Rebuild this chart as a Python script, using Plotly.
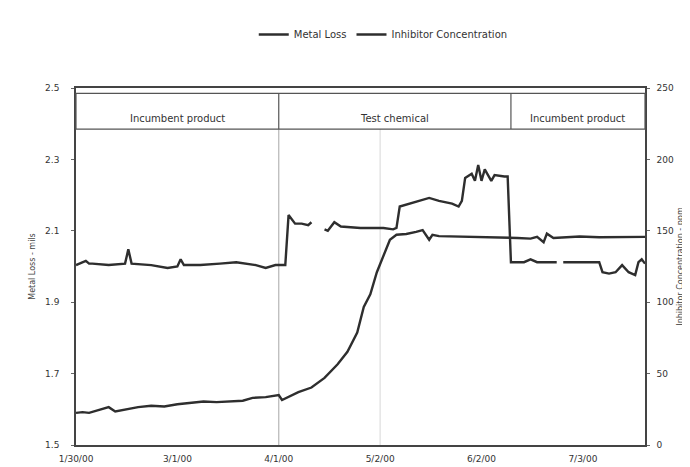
import plotly.graph_objects as go
import pandas as pd

# ---------------- data ----------------
metal_dates = ["2000-01-30","2000-02-01","2000-02-03","2000-02-06","2000-02-09","2000-02-11","2000-02-14",
               "2000-02-18","2000-02-22","2000-02-26","2000-03-01","2000-03-05","2000-03-09","2000-03-13",
               "2000-03-17","2000-03-21","2000-03-24","2000-03-28","2000-04-01","2000-04-02","2000-04-07",
               "2000-04-11","2000-04-15","2000-04-19","2000-04-22","2000-04-25","2000-04-27","2000-04-29",
               "2000-05-01","2000-05-03","2000-05-05","2000-05-07","2000-05-10","2000-05-13","2000-05-15",
               "2000-05-17","2000-05-18","2000-05-20","2000-05-25","2000-05-30","2000-06-04","2000-06-09",
               "2000-06-13","2000-06-17","2000-06-19","2000-06-21","2000-06-22","2000-06-24","2000-06-28",
               "2000-07-02","2000-07-08","2000-07-14","2000-07-18","2000-07-22"]
metal_loss = [1.590,1.592,1.590,1.598,1.606,1.594,1.600,
              1.606,1.610,1.608,1.614,1.618,1.622,1.620,
              1.622,1.624,1.632,1.634,1.640,1.626,1.648,
              1.661,1.688,1.726,1.761,1.815,1.887,1.922,
              1.984,2.030,2.075,2.089,2.091,2.097,2.102,
              2.075,2.089,2.085,2.084,2.082,2.083,2.082,
              2.080,2.078,2.083,2.068,2.092,2.080,2.082,
              2.084,2.082,2.082,2.083,2.083]

inh_dates = ["2000-01-30","2000-02-02","2000-02-03","2000-02-04","2000-02-09","2000-02-14","2000-02-15",
             "2000-02-16","2000-02-22","2000-02-27","2000-03-01","2000-03-02","2000-03-03","2000-03-08",
             "2000-03-14","2000-03-19","2000-03-25","2000-03-28","2000-03-31","2000-04-03","2000-04-04",
             "2000-04-06","2000-04-08","2000-04-10","2000-04-11","2000-04-13","2000-04-15","2000-04-16",
             "2000-04-18","2000-04-20","2000-04-26","2000-05-03","2000-05-06","2000-05-07","2000-05-08",
             "2000-05-11","2000-05-17","2000-05-20","2000-05-24","2000-05-26","2000-05-27","2000-05-28",
             "2000-05-30","2000-05-31","2000-06-01","2000-06-02","2000-06-03","2000-06-05","2000-06-06",
             "2000-06-09","2000-06-10","2000-06-11","2000-06-15","2000-06-17","2000-06-19","2000-06-24",
             "2000-06-25","2000-06-26","2000-06-27","2000-07-03","2000-07-08","2000-07-09","2000-07-11",
             "2000-07-13","2000-07-15","2000-07-17","2000-07-19","2000-07-20","2000-07-21","2000-07-22"]
inhibitor = [126,129,127,127,126,127,137,
             127,126,124,125,130,126,126,
             127,128,126,124,126,126,161,
             155,155,154,156,None,151,150,
             156,153,152,152,151,152,167,
             169,173,171,169,167,171,187,
             190,185,196,185,193,185,189,
             188,188,128,128,130,128,128,
             128,None,128,128,128,121,120,
             121,126,121,119,128,130,127]

phase_names = ["Incumbent product", "Test chemical", "Incumbent product"]
phase_bounds = ["2000-01-30", "2000-04-01", "2000-06-11", "2000-07-22"]
marker_dates = ["2000-04-01", "2000-05-02"]

tick_dates = ["2000-01-30", "2000-03-01", "2000-04-01", "2000-05-02", "2000-06-02", "2000-07-03"]
tick_text = ["1/30/00", "3/1/00", "4/1/00", "5/2/00", "6/2/00", "7/3/00"]
left_ticks = [1.5, 1.7, 1.9, 2.1, 2.3, 2.5]
right_ticks = [0, 50, 100, 150, 200, 250]

# ---------------- figure ----------------
LINE = "#2e2e2e"
FONT = "DejaVu Sans"

fig = go.Figure()
fig.add_trace(go.Scatter(x=metal_dates, y=metal_loss, name="Metal Loss", mode="lines",
                         line=dict(color=LINE, width=2.4), yaxis="y"))
fig.add_trace(go.Scatter(x=inh_dates, y=inhibitor, name="Inhibitor Concentration", mode="lines",
                         line=dict(color=LINE, width=2.4), yaxis="y2", connectgaps=False))

shapes = []
for i, d in enumerate(marker_dates):
    shapes.append(dict(type="line", xref="x", yref="paper", x0=d, x1=d, y0=0, y1=0.9,
                       line=dict(color="#b5b5b5" if i == 0 else "#dedede", width=1.2), layer="below"))
box_top, box_bot = 0.985, 0.885
shapes.append(dict(type="rect", xref="paper", yref="paper", x0=0, x1=1, y0=box_bot, y1=box_top,
                   line=dict(color="#555", width=1.2), fillcolor="white"))
for d in phase_bounds[1:-1]:
    shapes.append(dict(type="line", xref="x", yref="paper", x0=d, x1=d, y0=box_bot, y1=box_top,
                       line=dict(color="#555", width=1.2)))

annotations = []
for name, a, b in zip(phase_names, phase_bounds[:-1], phase_bounds[1:]):
    mid = pd.Timestamp(a) + (pd.Timestamp(b) - pd.Timestamp(a)) / 2
    annotations.append(dict(x=mid, y=(box_top + box_bot) / 2, xref="x", yref="paper", text=name,
                            showarrow=False, font=dict(family=FONT, size=10, color="#333")))

fig.update_layout(
    width=690, height=467,
    margin=dict(l=68, r=53, t=65, b=30),
    paper_bgcolor="white", plot_bgcolor="white",
    font=dict(family=FONT, size=9, color="#333"),
    showlegend=True,
    legend=dict(orientation="h", x=0.54, xanchor="center", y=1.15, yanchor="middle",
                font=dict(family=FONT, size=10, color="#333"), itemwidth=30,
                bgcolor="rgba(0,0,0,0)"),
    shapes=shapes, annotations=annotations,
    xaxis=dict(type="date", range=["2000-01-30", "2000-07-22"], tickvals=tick_dates, ticktext=tick_text,
               showgrid=False, showline=True, linecolor="#444", linewidth=1.5, mirror=True,
               ticks="", ticklabelstandoff=4, tickfont=dict(family=FONT, size=9, color="#333"),
               zeroline=False, automargin=False),
    yaxis=dict(range=[1.5, 2.5], tickvals=left_ticks, ticktext=["1.5", "1.7", "1.9", "2.1", "2.3", "2.5"],
               showgrid=False, showline=True, linecolor="#444", linewidth=1.5,
               ticks="outside", ticklen=3, tickcolor="#666", ticklabelstandoff=10,
               tickfont=dict(family=FONT, size=9, color="#333"),
               title=dict(text="Metal Loss - mils", font=dict(family=FONT, size=8, color="#444"), standoff=8),
               zeroline=False, automargin=False),
    yaxis2=dict(range=[0, 250], tickvals=right_ticks, overlaying="y", side="right",
                showgrid=False, showline=True, linecolor="#444", linewidth=1.5,
                ticks="outside", ticklen=3, tickcolor="#666", ticklabelstandoff=5,
                tickfont=dict(family=FONT, size=9, color="#333"),
                title=dict(text="Inhibitor Concentration - ppm", font=dict(family=FONT, size=8, color="#444"),
                           standoff=4),
                zeroline=False, automargin=False),
)

fig.write_html("out.html")
